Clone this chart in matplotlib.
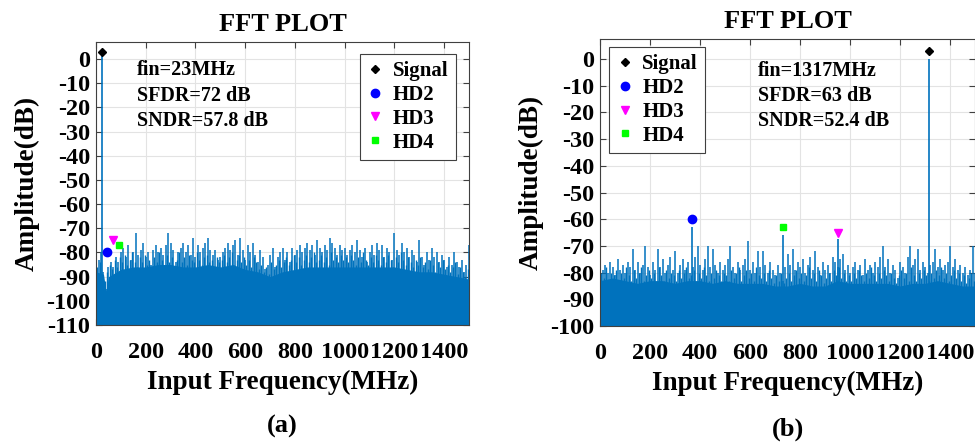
import numpy as np
import matplotlib.pyplot as plt

plt.rcParams['font.family'] = 'Liberation Serif'
plt.rcParams['font.weight'] = 'bold'
plt.rcParams['axes.unicode_minus'] = False

bar_color = '#0072BD'

# frequency bins of the noise spikes (MHz); second set sits between them
freq = np.arange(0, 1501, 10)
freq_mid = np.arange(5, 1500, 10)

# (a) fin = 23 MHz : tall spikes of the noise floor (dB)
noise_a = [-85, -83, -80, -88, -95, -86, -84, -86, -82, -84,
           -80, -78, -82, -77, -83, -80, -72, -81, -79, -76,
           -82, -80, -85, -79, -77, -80, -78, -81, -77, -72,
           -76, -79, -84, -80, -78, -76, -80, -77, -81, -74,
           -82, -77, -80, -78, -76, -74, -79, -81, -79, -83,
           -82, -80, -78, -76, -79, -77, -75, -81, -74, -79,
           -83, -77, -80, -76, -81, -84, -79, -82, -87, -85,
           -81, -78, -86, -82, -80, -78, -83, -80, -84, -78,
           -81, -79, -77, -80, -78, -76, -79, -77, -81, -75,
           -78, -80, -77, -79, -74, -76, -78, -81, -77, -79,
           -78, -81, -79, -77, -80, -75, -79, -82, -78, -84,
           -80, -77, -81, -76, -79, -77, -82, -78, -80, -83,
           -72, -79, -81, -76, -80, -78, -82, -79, -81, -84,
           -75, -82, -85, -80, -83, -78, -82, -80, -84, -81,
           -83, -86, -82, -85, -80, -84, -86, -83, -88, -85,
           -77]
# in-between bins
noise_a2 = [-86, -84, -90, -92, -88, -85, -87, -83, -86, -82,
            -84, -81, -85, -83, -80, -84, -86, -82, -84, -81,
            -85, -83, -87, -82, -84, -80, -83, -85, -81, -84,
            -82, -86, -83, -80, -84, -82, -85, -81, -83, -84,
            -80, -83, -85, -82, -81, -84, -83, -86, -82, -84,
            -83, -81, -84, -82, -80, -85, -83, -81, -84, -82,
            -85, -83, -86, -82, -84, -87, -85, -88, -86, -89,
            -84, -87, -85, -83, -86, -84, -82, -85, -83, -81,
            -84, -82, -85, -83, -81, -84, -82, -80, -84, -83,
            -81, -84, -82, -85, -80, -83, -82, -84, -81, -83,
            -82, -84, -81, -83, -85, -82, -84, -80, -83, -85,
            -82, -84, -81, -83, -85, -82, -84, -81, -83, -86,
            -82, -84, -80, -83, -85, -82, -84, -86, -83, -85,
            -82, -86, -84, -87, -83, -85, -88, -84, -86, -83,
            -87, -85, -88, -86, -84, -89, -86, -88, -90, -87]
# solid part of the noise floor
core_f_a = [0, 30, 40, 50, 100, 150, 200, 250, 300, 350, 400, 450, 500, 550,
            600, 650, 700, 750, 800, 850, 900, 950, 1000, 1050, 1100, 1150,
            1200, 1250, 1300, 1350, 1400, 1450, 1500]
core_a = [-88, -89, -96, -90, -87, -86, -86, -85, -85, -86, -86, -85, -86, -85,
          -87, -88, -90, -88, -87, -86, -86, -86, -86, -86, -86, -86,
          -86, -87, -88, -88, -89, -90, -91]

# (b) fin = 1317 MHz
noise_b = [-59, -79, -77, -80, -76, -78, -81, -75, -79, -77,
           -80, -76, -78, -71, -79, -76, -80, -77, -70, -78,
           -81, -76, -79, -71, -78, -75, -80, -77, -74, -79,
           -72, -80, -77, -75, -79, -76, -80, -78, -74, -70,
           -77, -79, -75, -70, -78, -71, -77, -80, -76, -79,
           -77, -75, -70, -78, -80, -76, -79, -77, -75, -68,
           -79, -76, -80, -72, -78, -72, -77, -80, -76, -79,
           -81, -77, -80, -83, -78, -73, -77, -71, -79, -76,
           -78, -75, -80, -77, -74, -79, -72, -78, -81, -76,
           -79, -77, -80, -74, -76, -78, -75, -73, -79, -77,
           -80, -78, -76, -79, -77, -81, -75, -79, -77, -80,
           -76, -78, -74, -70, -78, -75, -80, -77, -79, -82,
           -76, -78, -80, -74, -70, -77, -75, -71, -79, -76,
           -78, -80, -77, -76, -71, -78, -75, -79, -77, -76,
           -70, -78, -75, -79, -77, -80, -78, -81, -79, -70,
           -80]
noise_b2 = [-80, -82, -78, -83, -80, -81, -79, -83, -80, -82,
            -78, -81, -83, -79, -82, -80, -78, -83, -81, -79,
            -82, -80, -83, -78, -81, -83, -79, -82, -80, -81,
            -83, -79, -82, -80, -78, -82, -81, -79, -83, -80,
            -82, -78, -81, -83, -80, -82, -79, -81, -83, -80,
            -81, -83, -79, -82, -80, -78, -83, -81, -79, -82,
            -80, -83, -78, -81, -82, -80, -83, -79, -82, -84,
            -81, -83, -80, -84, -82, -80, -83, -81, -79, -82,
            -80, -83, -81, -78, -82, -80, -83, -79, -81, -84,
            -82, -80, -83, -79, -81, -78, -82, -80, -83, -81,
            -83, -80, -82, -79, -81, -83, -80, -82, -78, -81,
            -83, -80, -82, -79, -81, -83, -80, -82, -84, -81,
            -79, -82, -80, -83, -78, -81, -83, -80, -82, -79,
            -81, -83, -80, -82, -79, -81, -78, -82, -80, -83,
            -81, -79, -82, -80, -83, -81, -84, -82, -80, -83]
core_f_b = [0, 50, 100, 150, 200, 250, 300, 350, 400, 450, 500, 550, 600, 650,
            700, 750, 800, 850, 900, 950, 1000, 1050, 1100, 1150, 1200, 1250,
            1300, 1350, 1400, 1450, 1500]
core_b = [-83, -82, -83, -84, -83, -83, -84, -83, -83, -84, -83, -84, -84, -84,
          -85, -85, -84, -85, -85, -83, -84, -84, -84, -84, -85, -84,
          -84, -83, -84, -85, -85]

# tones: frequency, stem top, marker level
sig_a = (23, 3, 3)
hd_a = {'HD2': (46, -80), 'HD3': (69, -75), 'HD4': (92, -77)}
sig_b = (1317, 0, 3)
hd_b = {'HD2': (366, -63, -60), 'HD3': (951, -67.5, -65), 'HD4': (732, -66, -63)}

texts = ['fin=23MHz\nSFDR=72 dB\nSNDR=57.8 dB',
         'fin=1317MHz\nSFDR=63 dB\nSNDR=52.4 dB']

styles = {'HD2': dict(marker='o', color='#0000FF', ms=6),
          'HD3': dict(marker='v', color='#FF00FF', ms=6),
          'HD4': dict(marker='s', color='#00FF00', ms=5)}

fig = plt.figure(figsize=(9.75, 4.43), dpi=100)
ax_a = fig.add_axes([0.0985, 0.2664, 0.3825, 0.6386])
ax_b = fig.add_axes([0.6154, 0.264, 0.3846, 0.648])


def draw(ax, noise, noise2, core_f, core, sig, bottom):
    ax.fill_between(core_f, core, bottom, color=bar_color, lw=0, zorder=2)
    ax.vlines(freq_mid, bottom, noise2, color=bar_color, lw=1.0, zorder=2)
    ax.vlines(freq, bottom, noise, color=bar_color, lw=1.1, zorder=2)
    ax.vlines(sig[0], bottom, sig[1], color=bar_color, lw=1.2, zorder=2)
    ax.plot(sig[0], sig[2], 'kD', ms=4.5, zorder=4, label='Signal')


# panel (a)
draw(ax_a, noise_a, noise_a2, core_f_a, core_a, sig_a, -110)
for k in ['HD2', 'HD3', 'HD4']:
    ax_a.plot(hd_a[k][0], hd_a[k][1], ls='none', zorder=4, label=k, **styles[k])
ax_a.set_ylim(-110, 7)
ax_a.set_yticks(np.arange(-110, 1, 10))

# panel (b)
draw(ax_b, noise_b, noise_b2, core_f_b, core_b, sig_b, -100)
for k in ['HD2', 'HD3', 'HD4']:
    f, top, m = hd_b[k]
    ax_b.vlines(f, -100, top, color=bar_color, lw=1.2, zorder=2)
    ax_b.plot(f, m, ls='none', zorder=4, label=k, **styles[k])
ax_b.set_ylim(-100, 7.5)
ax_b.set_yticks(np.arange(-100, 1, 10))

for ax, txt, tx, ty, lab, lloc, lanchor in [
        (ax_a, texts[0], 0.11, 0.935, '(a)', 'upper right', (0.965, 0.958)),
        (ax_b, texts[1], 0.421, 0.925, '(b)', 'upper left', (0.024, 0.972))]:
    ax.set_xlim(0, 1500)
    ax.set_xticks(np.arange(0, 1401, 200))
    ax.grid(True, color='#e3e3e3', lw=0.8, zorder=0)
    ax.set_axisbelow(True)
    ax.tick_params(direction='in', length=4, top=True, right=True,
                   labelsize=17.5, color='#404040')
    ax.tick_params(axis='x', pad=12)
    ax.tick_params(axis='y', pad=4)
    for s in ax.spines.values():
        s.set_color('#404040')
        s.set_linewidth(0.8)
    ax.set_title('FFT PLOT', fontsize=19, fontweight='bold', pad=8)
    ax.set_xlabel('Input Frequency(MHz)', fontsize=19.5, fontweight='bold', labelpad=5)
    ax.set_ylabel('Amplitude(dB)', fontsize=19.5, fontweight='bold', labelpad=5)
    ax.text(tx, ty, txt, transform=ax.transAxes, ha='left', va='top',
            fontsize=14.5, fontweight='bold', linespacing=1.35)
    leg = ax.legend(loc=lloc, bbox_to_anchor=lanchor, borderaxespad=0,
                    fontsize=15, fancybox=False, framealpha=1,
                    edgecolor='#404040', handlelength=0.8, handletextpad=0.45,
                    labelspacing=0.18, borderpad=0.35)
    leg.get_frame().set_linewidth(0.8)
    ax.text(0.5, -0.36, lab, transform=ax.transAxes, ha='center', va='center',
            fontsize=19, fontweight='bold')

fig.savefig('out.png', dpi=100)
